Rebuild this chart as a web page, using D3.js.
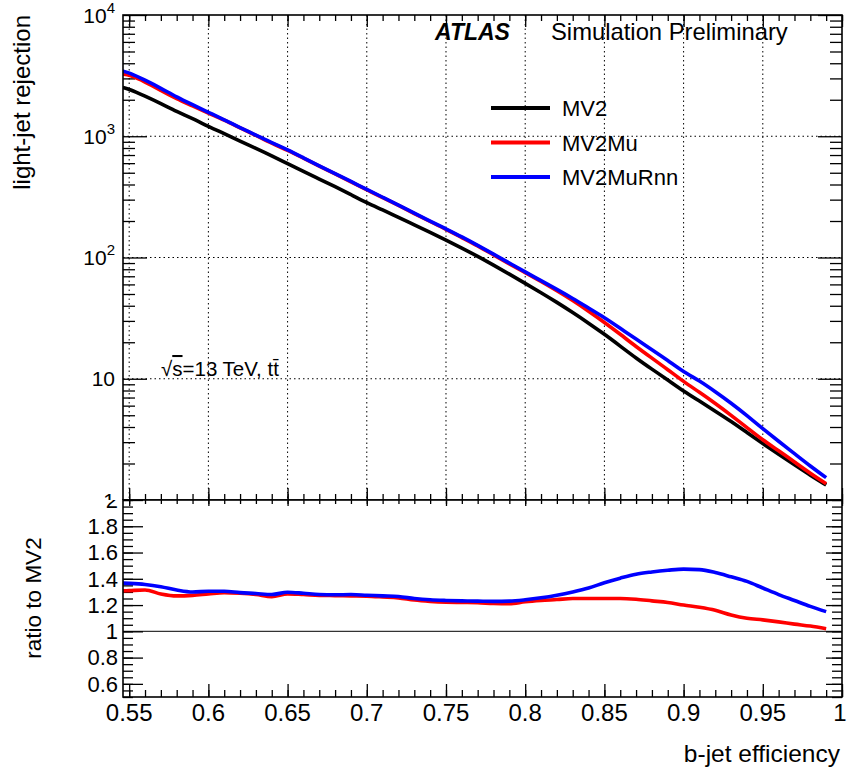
<!DOCTYPE html>
<html>
<head>
<meta charset="utf-8">
<script src="https://cdn.jsdelivr.net/npm/d3@7"></script>
<style>
  body { margin: 0; background: #fff; }
  svg { display: block; }
  text { font-family: "Liberation Sans", Arial, Helvetica, sans-serif; fill: #000; }
</style>
</head>
<body>
<div id="content"></div>
<script>
// b-jet efficiency points
var eff = [0.546, 0.55, 0.56, 0.57, 0.58, 0.59, 0.60, 0.61, 0.62, 0.63, 0.64, 0.65, 0.66, 0.67, 0.68, 0.69,
           0.70, 0.71, 0.72, 0.73, 0.74, 0.75, 0.76, 0.77, 0.78, 0.79, 0.80, 0.81, 0.82, 0.83, 0.84, 0.85,
           0.86, 0.87, 0.88, 0.89, 0.90, 0.91, 0.92, 0.93, 0.94, 0.95, 0.96, 0.97, 0.98, 0.99];

// light-jet rejection
var mv2 = [2520, 2450, 2140, 1860, 1600, 1400, 1205, 1050, 910, 795, 690, 594, 513, 444, 384, 330,
           283, 247, 214, 186, 161.4, 139.3, 119.7, 102.3, 86.5, 73, 61.2, 51.3, 42.7, 35.2, 28.8, 23.3,
           18.6, 14.8, 12.0, 9.77, 7.9, 6.55, 5.4, 4.45, 3.6, 2.92, 2.38, 1.95, 1.6, 1.33];
var mv2mu = [3250, 3210, 2815, 2390, 2030, 1784, 1552, 1360, 1174, 1018, 872, 767, 659, 567, 490, 420,
             362, 312, 269, 230, 198, 171, 146, 125, 105, 88.5, 75, 63.5, 53.2, 44.3, 36.1, 29.2,
             23.3, 18.4, 14.8, 11.9, 9.46, 7.75, 6.26, 5.0, 3.96, 3.12, 2.55, 2.06, 1.66, 1.36];
var mv2murnn = [3445, 3344, 2904, 2492, 2104, 1820, 1576, 1370, 1178, 1024, 883, 775, 664, 570, 492, 424,
                364, 314, 271, 232, 200, 172, 148, 126, 106.5, 90, 76, 64.5, 54.6, 46, 38.3, 32,
                26.1, 21.2, 17.4, 14.2, 11.4, 9.63, 7.82, 6.30, 4.97, 3.88, 3.05, 2.41, 1.90, 1.53];

// ratio to MV2
var ratioMu = [1.308, 1.31, 1.315, 1.285, 1.27, 1.274, 1.285, 1.295, 1.29, 1.28, 1.264, 1.285, 1.28, 1.274, 1.272, 1.27,
               1.268, 1.262, 1.255, 1.238, 1.228, 1.222, 1.22, 1.218, 1.212, 1.21, 1.225, 1.235, 1.242, 1.25, 1.25, 1.25,
               1.25, 1.244, 1.232, 1.22, 1.20, 1.183, 1.16, 1.125, 1.10, 1.087, 1.072, 1.055, 1.04, 1.02];
var ratioRnn = [1.367, 1.365, 1.357, 1.34, 1.315, 1.30, 1.305, 1.305, 1.295, 1.288, 1.28, 1.298, 1.29, 1.28, 1.278, 1.28,
                1.275, 1.27, 1.265, 1.25, 1.24, 1.235, 1.232, 1.23, 1.228, 1.23, 1.24, 1.255, 1.275, 1.30, 1.33, 1.37,
                1.405, 1.435, 1.452, 1.465, 1.474, 1.47, 1.448, 1.415, 1.38, 1.33, 1.28, 1.235, 1.19, 1.15];

var seriesNames = ["MV2", "MV2Mu", "MV2MuRnn"];
var seriesColors = ["#000000", "#ff0000", "#0000ff"];

var xTicks = [0.55, 0.6, 0.65, 0.7, 0.75, 0.8, 0.85, 0.9, 0.95, 1];
var xTickLabels = ["0.55", "0.6", "0.65", "0.7", "0.75", "0.8", "0.85", "0.9", "0.95", "1"];
var rejTicks = [1, 10, 100, 1000, 10000];
var rejExponents = ["", "", "2", "3", "4"];
var rejBases = ["1", "10", "10", "10", "10"];
var ratioTicks = [0.6, 0.8, 1, 1.2, 1.4, 1.6, 1.8, 2];
var ratioTickLabels = ["0.6", "0.8", "1", "1.2", "1.4", "1.6", "1.8", "2"];

var width = 847, height = 773;
var left = 123, right = 842, topY = 15, mid = 500, bottom = 697;

var svg = d3.select('#content').append("svg")
  .attr("width", width)
  .attr("height", height);

var x = d3.scaleLinear().domain([0.5461, 1]).range([left, right]);
var yTop = d3.scaleLog().domain([1, 10000]).range([mid, topY]);
var yBot = d3.scaleLinear().domain([0.5, 2]).range([bottom, mid]);

var defs = svg.append("defs");
defs.append("clipPath").attr("id", "clipTop").append("rect")
  .attr("x", left).attr("y", topY).attr("width", right - left).attr("height", mid - topY);
defs.append("clipPath").attr("id", "clipBot").append("rect")
  .attr("x", left).attr("y", mid).attr("width", right - left).attr("height", bottom - mid);
defs.append("clipPath").attr("id", "clipBotPad").append("rect")
  .attr("x", 0).attr("y", mid).attr("width", width).attr("height", height - mid);

var xMinor = d3.range(0.55, 1.0001, 0.01);
var logMinor = [];
[1, 10, 100, 1000].forEach(function(dec) {
  for (var k = 2; k <= 9; k++) logMinor.push(dec * k);
});
var ratioMinor = d3.range(0.5, 2.0001, 0.05);

function ticks(g, axisFn, scale, values, size) {
  g.call(axisFn(scale).tickValues(values).tickSize(size).tickFormat(""));
  g.select(".domain").remove();
  g.selectAll("line").attr("stroke", "#000").attr("stroke-width", 1.3);
}

// ---------- top pad ----------
var topPad = svg.append("g");

// dotted grid
topPad.append("g").selectAll("line")
  .data(xTicks.slice(0, -1))
  .enter().append("line")
  .attr("x1", function(d) { return x(d); }).attr("x2", function(d) { return x(d); })
  .attr("y1", topY).attr("y2", mid)
  .attr("stroke", "#000").attr("stroke-width", 1).attr("stroke-dasharray", "1.5,3");
topPad.append("g").selectAll("line")
  .data([10, 100, 1000])
  .enter().append("line")
  .attr("x1", left).attr("x2", right)
  .attr("y1", function(d) { return yTop(d); }).attr("y2", function(d) { return yTop(d); })
  .attr("stroke", "#000").attr("stroke-width", 1).attr("stroke-dasharray", "1.5,3");

// ticks
ticks(topPad.append("g").attr("transform", "translate(0," + topY + ")"), d3.axisBottom, x, xTicks, 12);
ticks(topPad.append("g").attr("transform", "translate(0," + topY + ")"), d3.axisBottom, x, xMinor, 6);
ticks(topPad.append("g").attr("transform", "translate(0," + mid + ")"), d3.axisTop, x, xTicks, 12);
ticks(topPad.append("g").attr("transform", "translate(0," + mid + ")"), d3.axisTop, x, xMinor, 6);
ticks(topPad.append("g").attr("transform", "translate(" + left + ",0)"), d3.axisRight, yTop, rejTicks, 24);
ticks(topPad.append("g").attr("transform", "translate(" + left + ",0)"), d3.axisRight, yTop, logMinor, 12);
ticks(topPad.append("g").attr("transform", "translate(" + right + ",0)"), d3.axisLeft, yTop, rejTicks, 24);
ticks(topPad.append("g").attr("transform", "translate(" + right + ",0)"), d3.axisLeft, yTop, logMinor, 12);

// curves
var topSeries = [mv2, mv2mu, mv2murnn];
var lineTop = d3.line()
  .x(function(d, i) { return x(eff[i]); })
  .y(function(d) { return yTop(d); })
  .curve(d3.curveBasis);
topPad.append("g").attr("clip-path", "url(#clipTop)")
  .selectAll("path")
  .data(topSeries)
  .enter().append("path")
  .attr("d", lineTop)
  .attr("fill", "none")
  .attr("stroke", function(d, i) { return seriesColors[i]; })
  .attr("stroke-width", 3.6)
  .attr("stroke-linejoin", "round");

// frame
topPad.append("rect")
  .attr("x", left).attr("y", topY).attr("width", right - left).attr("height", mid - topY)
  .attr("fill", "none").attr("stroke", "#000").attr("stroke-width", 1.6);

// y tick labels (10^n)
var yLab = topPad.append("g").selectAll("text")
  .data(rejTicks)
  .enter().append("text")
  .attr("x", 115)
  .attr("y", function(d) { return yTop(d) + 7.5; })
  .attr("text-anchor", "end")
  .style("font-size", "21px");
yLab.append("tspan").text(function(d, i) { return rejBases[i]; });
yLab.filter(function(d, i) { return rejExponents[i] !== ""; })
  .append("tspan")
  .attr("dy", -10)
  .style("font-size", "15px")
  .text(function(d) { return rejExponents[rejTicks.indexOf(d)]; });

// axis title
svg.append("text")
  .attr("transform", "translate(30," + topY + ") rotate(-90)")
  .attr("text-anchor", "end")
  .style("font-size", "24px")
  .text("light-jet rejection");

// ATLAS label
svg.append("text")
  .attr("x", 435).attr("y", 40)
  .style("font-size", "23px").style("font-weight", "bold").style("font-style", "italic")
  .text("ATLAS");
svg.append("text")
  .attr("x", 551).attr("y", 40)
  .style("font-size", "23.8px")
  .text("Simulation Preliminary");

// energy label
var eLab = svg.append("text")
  .attr("x", 161).attr("y", 376)
  .style("font-size", "20.5px");
eLab.append("tspan").text("\u221A");
eLab.append("tspan").style("text-decoration", "overline").text("s");
eLab.append("tspan").text("=13 TeV, t");
eLab.append("tspan").text("t\u0304");

// legend
var legendY = [108, 142.5, 177];
var leg = svg.append("g").selectAll("g")
  .data(seriesNames)
  .enter().append("g")
  .attr("transform", function(d, i) { return "translate(0," + legendY[i] + ")"; });
leg.append("line")
  .attr("x1", 491).attr("x2", 550)
  .attr("stroke", function(d, i) { return seriesColors[i]; })
  .attr("stroke-width", 4);
leg.append("text")
  .attr("x", 562).attr("y", 8)
  .style("font-size", "22px")
  .text(function(d) { return d; });

// ---------- bottom pad ----------
svg.append("rect")
  .attr("x", 0).attr("y", mid).attr("width", width).attr("height", height - mid)
  .attr("fill", "#fff");
var botPad = svg.append("g");

// reference line at 1
botPad.append("line")
  .attr("x1", left).attr("x2", right)
  .attr("y1", yBot(1)).attr("y2", yBot(1))
  .attr("stroke", "#333").attr("stroke-width", 1.2);

ticks(botPad.append("g").attr("transform", "translate(0," + mid + ")"), d3.axisBottom, x, xTicks, 6);
ticks(botPad.append("g").attr("transform", "translate(0," + mid + ")"), d3.axisBottom, x, xMinor, 4);
ticks(botPad.append("g").attr("transform", "translate(0," + bottom + ")"), d3.axisTop, x, xTicks, 13);
ticks(botPad.append("g").attr("transform", "translate(0," + bottom + ")"), d3.axisTop, x, xMinor, 7);
ticks(botPad.append("g").attr("transform", "translate(" + left + ",0)"), d3.axisRight, yBot, ratioTicks, 20);
ticks(botPad.append("g").attr("transform", "translate(" + left + ",0)"), d3.axisRight, yBot, ratioMinor, 10);
ticks(botPad.append("g").attr("transform", "translate(" + right + ",0)"), d3.axisLeft, yBot, ratioTicks, 16);
ticks(botPad.append("g").attr("transform", "translate(" + right + ",0)"), d3.axisLeft, yBot, ratioMinor, 10);

var botSeries = [ratioMu, ratioRnn];
var lineBot = d3.line()
  .x(function(d, i) { return x(eff[i]); })
  .y(function(d) { return yBot(d); })
  .curve(d3.curveMonotoneX);
botPad.append("g").attr("clip-path", "url(#clipBot)")
  .selectAll("path")
  .data(botSeries)
  .enter().append("path")
  .attr("d", lineBot)
  .attr("fill", "none")
  .attr("stroke", function(d, i) { return seriesColors[i + 1]; })
  .attr("stroke-width", 3.6)
  .attr("stroke-linejoin", "round");

botPad.append("rect")
  .attr("x", left).attr("y", mid).attr("width", right - left).attr("height", bottom - mid)
  .attr("fill", "none").attr("stroke", "#000").attr("stroke-width", 1.6);

// ratio tick labels
botPad.append("g").attr("clip-path", "url(#clipBotPad)")
  .selectAll("text")
  .data(ratioTicks)
  .enter().append("text")
  .attr("x", 118)
  .attr("y", function(d) { return yBot(d) + 7.8; })
  .attr("text-anchor", "end")
  .style("font-size", "22px")
  .text(function(d, i) { return ratioTickLabels[i]; });

// x tick labels (keep the last one inside the page)
botPad.append("g").selectAll("text")
  .data(xTicks)
  .enter().append("text")
  .attr("x", function(d) { return Math.min(x(d), width - 7); })
  .attr("y", 721)
  .attr("text-anchor", "middle")
  .style("font-size", "24px")
  .text(function(d, i) { return xTickLabels[i]; });

svg.append("text")
  .attr("transform", "translate(41,598) rotate(-90)")
  .attr("text-anchor", "middle")
  .style("font-size", "22.5px")
  .text("ratio to MV2");

svg.append("text")
  .attr("x", 840).attr("y", 762)
  .attr("text-anchor", "end")
  .style("font-size", "24.5px")
  .text("b-jet efficiency");
</script>
</body>
</html>
